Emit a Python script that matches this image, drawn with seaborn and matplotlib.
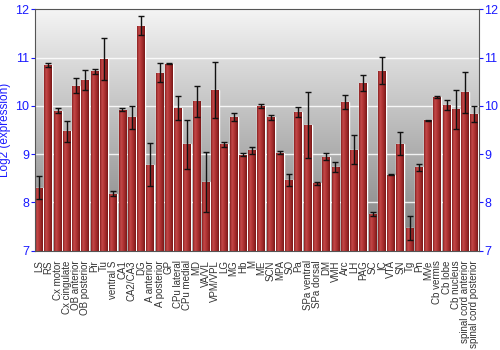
import numpy as np
import pandas as pd
import matplotlib
matplotlib.use("Agg")
import matplotlib.pyplot as plt
import seaborn as sns

regions = ["LS", "RS", "Cx motor", "Cx cingulate", "OB anterior", "OB posterior", "Pir", "Tu",
           "ventral S", "CA1", "CA2/CA3", "DG", "A anterior", "A posterior", "GP", "CPu lateral",
           "CPu medial", "MD", "VA/VL", "VPM/VPL", "LG", "MG", "Hb", "M", "ME", "SCN", "MPA", "SO",
           "Pa", "SPa ventral", "SPa dorsal", "DM", "VMH", "Arc", "LH", "PAG", "SC", "IC", "VTA",
           "SN", "Tg", "Pn", "MVe", "Cb vermis", "Cb lobe", "Cb nucleus", "spinal cord anterior",
           "spinal cord posterior"]
expression = [8.30, 10.85, 9.90, 9.47, 10.42, 10.53, 10.72, 10.97,
              8.18, 9.92, 9.76, 11.66, 8.78, 10.69, 10.87, 9.95,
              9.20, 10.10, 8.43, 10.33, 9.20, 9.77, 8.99, 9.08, 10.00, 9.76, 9.03, 8.46,
              9.88, 9.60, 8.40, 8.95, 8.73, 10.08, 9.09, 10.48, 7.76, 10.73, 8.57,
              9.22, 7.47, 8.73, 9.70, 10.18, 10.02, 9.93, 10.28, 9.83]
error = [0.24, 0.05, 0.05, 0.21, 0.15, 0.21, 0.05, 0.44,
         0.05, 0.03, 0.24, 0.20, 0.45, 0.20, 0.01, 0.25,
         0.50, 0.32, 0.62, 0.58, 0.06, 0.08, 0.03, 0.07, 0.04, 0.05, 0.03, 0.12,
         0.10, 0.68, 0.03, 0.08, 0.10, 0.14, 0.30, 0.17, 0.04, 0.28, 0.01,
         0.23, 0.24, 0.07, 0.005, 0.02, 0.10, 0.40, 0.42, 0.16]
yticks = [7, 8, 9, 10, 11, 12]

df = pd.DataFrame({"region": regions, "expr": expression, "err": error})

sns.set_theme(style="white")
plt.rcParams['font.family'] = ['Liberation Sans', 'DejaVu Sans']

fig = plt.figure(figsize=(5, 3.5), dpi=100)
ax = fig.add_axes([0.069, 0.284, 0.889, 0.689])

# background gradient
grad = np.linspace(0, 1, 256).reshape(-1, 1)
bg_cmap = matplotlib.colors.LinearSegmentedColormap.from_list("bg", ["#f4f4f4", "#7e7e7e"])
ax.imshow(grad, aspect="auto", cmap=bg_cmap, extent=[0, 1, 0, 1], transform=ax.transAxes,
          zorder=0, origin="upper")

sns.barplot(data=df, x="region", y="expr", color="#b03434", width=0.85, saturation=1,
            ax=ax, zorder=3, errorbar=None)
ax.set_ylim(7, 12)
xlim = ax.get_xlim()

# bar gradient
bar_cmap = matplotlib.colors.LinearSegmentedColormap.from_list(
    "bar", ["#8a1f1f", "#c24a4a", "#b53636", "#9a2828", "#7a1818"])
hgrad = np.linspace(0, 1, 64).reshape(1, -1)
for p in ax.patches:
    x0, y0 = p.get_x(), p.get_y()
    w, h = p.get_width(), p.get_height()
    im = ax.imshow(hgrad, aspect="auto", cmap=bar_cmap,
                   extent=[x0, x0 + w, 7, y0 + h], zorder=4)
    im.set_clip_path(p)
ax.set_xlim(xlim)
ax.set_ylim(7, 12)

ax.errorbar(np.arange(len(regions)), expression, yerr=error, fmt="none", ecolor="#111111",
            elinewidth=1.0, capsize=2.2, capthick=1.0, zorder=6)

for y in yticks[1:-1]:
    ax.axhline(y, color="white", lw=1.0, alpha=0.85, zorder=1)

ax.set_yticks(yticks)
ax.tick_params(axis="y", which="both", left=True, right=True, labelleft=True, labelright=True,
               colors="#1a1aff", labelsize=9, length=3, width=0.8, direction="out", pad=1)
ax.tick_params(axis="x", bottom=False, labelsize=7, labelcolor="#333333", pad=1)
ax.set_xticks(np.arange(len(regions)))
ax.set_xticklabels(regions, rotation=90)
ax.set_xlabel("")
ax.set_ylabel("Log2 (expression)", color="#1a1aff", fontsize=8.5, labelpad=3)
for s in ax.spines.values():
    s.set_color("#555555")
    s.set_linewidth(0.8)
    s.set_zorder(7)

fig.savefig("out.png", dpi=100)
